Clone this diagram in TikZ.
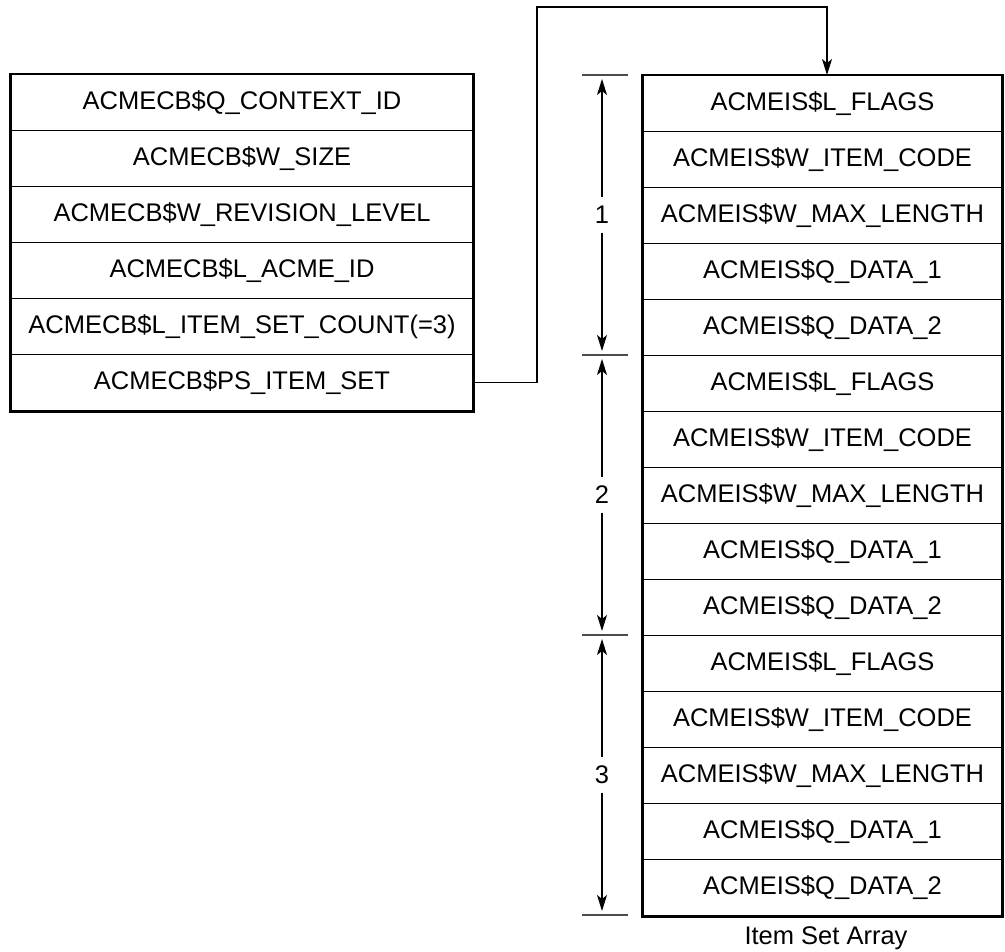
\documentclass[tikz,border=0pt]{standalone}
\usepackage{fontspec}
\setmainfont{Liberation Sans}
\usetikzlibrary{arrows.meta,calc}
\begin{document}
\begin{tikzpicture}[x=1pt,y=1pt,
  font=\fontsize{25.5}{30}\selectfont,
  lrow/.style={draw, line width=1.3pt, minimum width=462pt, minimum height=56pt, inner sep=0pt, anchor=north},
  rrow/.style={draw, line width=1.3pt, minimum width=359pt, minimum height=56pt, inner sep=0pt, anchor=north},
  frame/.style={line width=2.6pt},
  link/.style={line width=1.4pt, -{Stealth[length=16pt,width=10pt,inset=4pt]}},
  dim/.style={line width=1.3pt, -{Stealth[length=16pt,width=10pt,inset=4pt]}},
  tick/.style={line width=1.6pt, draw=black!70}]
\useasboundingbox (0,0) rectangle (1005,-952);
% left table
\foreach \t [count=\i] in {ACMECB\$Q\_CONTEXT\_ID, ACMECB\$W\_SIZE, ACMECB\$W\_REVISION\_LEVEL, ACMECB\$L\_ACME\_ID, ACMECB\$L\_ITEM\_SET\_COUNT(=3), ACMECB\$PS\_ITEM\_SET}
  \node[lrow] (L\i) at (242,{-74-56*(\i-1)}) {\t};
\draw[frame] (L1.north west) rectangle (L6.south east);
% right table
\foreach \g in {0,1,2}{
  \foreach \t [count=\j] in {ACMEIS\$L\_FLAGS, ACMEIS\$W\_ITEM\_CODE, ACMEIS\$W\_MAX\_LENGTH, ACMEIS\$Q\_DATA\_1, ACMEIS\$Q\_DATA\_2}{
    \pgfmathtruncatemacro{\k}{5*\g+\j}
    \node[rrow] (R\k) at (822.5,{-75-56*(\k-1)}) {\t};
  }
}
\draw[frame] (R1.north west) rectangle (R15.south east);
\node[anchor=center] (cap) at (826,-938) {Item Set Array};
% connector
\coordinate (c1) at (537,-7);
\coordinate (c2) at (827,-7);
\draw[link] (L6.east) -| (c1) -- (c2) -- (c2 |- R1.north);
% dimension marks
\foreach \y [count=\n] in {75,355,635,915}
  \coordinate (t\n) at (602,-\y);
\foreach \n in {1,2,3,4}
  \draw[tick] ($(t\n)+(-20,0)$) -- ($(t\n)+(26,0)$);
\foreach \a/\b/\lab in {1/2/1,2/3/2,3/4/3}{
  \node (n\a) at ($(t\a)!0.5!(t\b)$) {\lab};
  \draw[dim] ($(n\a.center)+(0,18)$) -- ($(t\a)+(0,-4)$);
  \draw[dim] ($(n\a.center)+(0,-18)$) -- ($(t\b)+(0,4)$);
}
\end{tikzpicture}
\end{document}
